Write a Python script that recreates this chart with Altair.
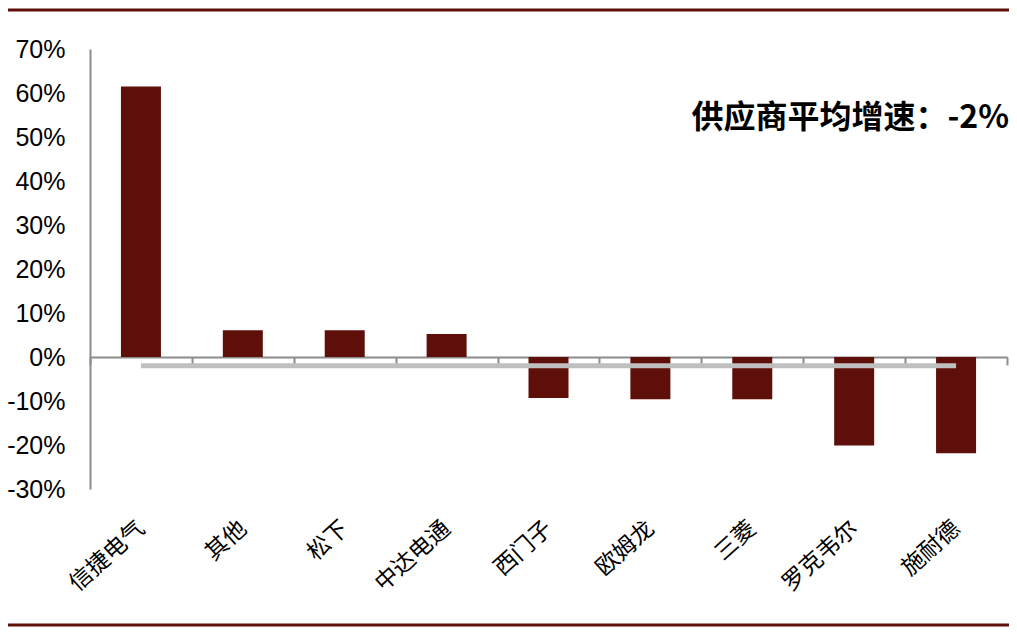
import altair as alt
import pandas as pd

categories = ["信捷电气", "其他", "松下", "中达电通", "西门子", "欧姆龙", "三菱", "罗克韦尔", "施耐德"]
growth = [0.615, 0.061, 0.061, 0.052, -0.093, -0.096, -0.096, -0.201, -0.219]
avg_growth = -0.02
avg_label = "供应商平均增速：-2%"
y_ticks = [-0.3, -0.2, -0.1, 0.0, 0.1, 0.2, 0.3, 0.4, 0.5, 0.6, 0.7]

BAR = "#5E0F0A"
AXIS_GREY = "#8C8C8C"

df = pd.DataFrame({"supplier": categories, "growth": growth})
avg_df = pd.DataFrame({"supplier": [categories[0]], "supplier_end": [categories[-1]], "growth": [avg_growth]})
one = pd.DataFrame({"k": [0]})

xscale = alt.Scale(domain=categories, paddingInner=0, paddingOuter=0)
yscale = alt.Scale(domain=[-0.3, 0.7], nice=False)

bars = alt.Chart(df).mark_bar(color=BAR, width=40).encode(
    x=alt.X("supplier:N", scale=xscale, title=None,
            axis=alt.Axis(orient="bottom", offset=-132, domainColor=AXIS_GREY, domainWidth=2,
                          tickColor=AXIS_GREY, tickWidth=2, tickSize=8, tickBand="extent",
                          labelPadding=160, labelAngle=-42, labelAlign="right", labelBaseline="middle",
                          labelFont="Noto Sans CJK SC", labelFontSize=23, labelColor="black",
                          labelLimit=400)),
    y=alt.Y("growth:Q", scale=yscale, title=None,
            axis=alt.Axis(values=y_ticks, grid=False, ticks=False, tickSize=0, labelPadding=25,
                          labelExpr="round(datum.value*100) + '%'",
                          labelFont="Liberation Sans", labelFontSize=25, labelColor="black",
                          domainColor=AXIS_GREY, domainWidth=2)),
)

avg_rule = alt.Chart(avg_df).mark_rule(color="#BFBFBF", strokeWidth=5).encode(
    x=alt.X("supplier:N", scale=xscale),
    x2="supplier_end:N",
    y=alt.Y("growth:Q", scale=yscale),
)

annot = alt.Chart(one).mark_text(
    text=avg_label, align="right", baseline="alphabetic", font="Noto Sans CJK SC",
    fontSize=32, fontWeight="bold", color="black"
).encode(x=alt.value(919), y=alt.value(79))

top_line = alt.Chart(one).mark_rule(color=BAR, strokeWidth=3).encode(
    x=alt.value(-82), x2=alt.value(919), y=alt.value(-39))
bottom_line = alt.Chart(one).mark_rule(color=BAR, strokeWidth=3).encode(
    x=alt.value(-82), x2=alt.value(919), y=alt.value(576))

chart = alt.layer(bars, avg_rule, annot, top_line, bottom_line).properties(
    width=917, height=440,
    padding={"left": 82, "top": 41, "right": 2, "bottom": 139},
    autosize=alt.AutoSizeParams(type="none"),
    background="white",
).configure_view(stroke=None)

chart.save("out.html", embed_options={"renderer": "svg", "actions": False})
